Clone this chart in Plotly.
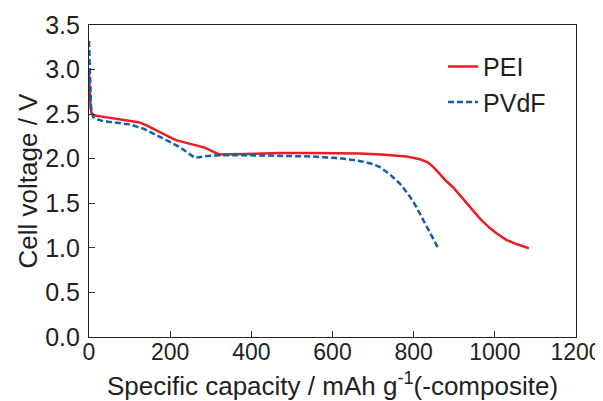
import plotly.graph_objects as go

# PEI (red, solid)
pei_capacity = [0, 1, 2, 4, 7, 15, 28, 60, 100, 122, 142, 160, 183, 200, 216, 240, 266, 285, 298, 310, 320,
                350, 421, 471, 550, 618, 667, 720, 782, 815, 835, 850, 864, 880, 897, 914, 930, 946, 965,
                987, 1005, 1028, 1055, 1084]
pei_voltage = [2.97, 2.85, 2.70, 2.56, 2.50, 2.485, 2.475, 2.455, 2.43, 2.41, 2.374, 2.33, 2.28, 2.24, 2.206,
               2.175, 2.15, 2.125, 2.095, 2.065, 2.048,
               2.05, 2.06, 2.063, 2.065, 2.063, 2.058, 2.048, 2.026, 1.995, 1.96, 1.90, 1.83, 1.75, 1.68,
               1.59, 1.50, 1.42, 1.32, 1.225, 1.16, 1.09, 1.04, 0.996]

# PVdF (blue, dashed)
pvdf_capacity = [0, 1, 2, 3, 5, 10, 15, 36, 70, 101, 134, 160, 183, 205, 224, 245, 261, 290, 323, 421, 471,
                 550, 618, 667, 700, 717, 740, 766, 790, 807, 825, 843, 860]
pvdf_voltage = [3.32, 3.10, 2.90, 2.70, 2.58, 2.47, 2.45, 2.42, 2.40, 2.385, 2.337, 2.28, 2.225, 2.175, 2.13,
                2.065, 2.01, 2.03, 2.04, 2.037, 2.03, 2.025, 2.005, 1.975, 1.94, 1.906, 1.83, 1.72, 1.58,
                1.456, 1.30, 1.15, 1.0]

x_ticks = [0, 200, 400, 600, 800, 1000, 1200]
y_ticks = [0.0, 0.5, 1.0, 1.5, 2.0, 2.5, 3.0, 3.5]

FONT = "Arial, Liberation Sans, sans-serif"
TXT = "#231f20"

fig = go.Figure()
fig.add_trace(go.Scatter(x=pei_capacity, y=pei_voltage, mode="lines", name="PEI",
                         line=dict(color="#ec1c24", width=2.5)))
fig.add_trace(go.Scatter(x=pvdf_capacity, y=pvdf_voltage, mode="lines", name="PVdF",
                         line=dict(color="#0f5fae", width=2.5, dash="6px,3px")))

# page body has an 8px margin; the plot area is placed to match the 603x401 window
fig.update_layout(
    width=603, height=393,
    margin=dict(l=81, r=35, t=17, b=64),
    paper_bgcolor="white", plot_bgcolor="white",
    font=dict(family=FONT, size=25, color=TXT),
    showlegend=True,
    legend=dict(x=0.727, y=0.94, xanchor="left", yanchor="top", bgcolor="rgba(0,0,0,0)",
                font=dict(size=25, color=TXT), tracegroupgap=0),
)
fig.update_xaxes(range=[0, 1200], tickvals=x_ticks, ticktext=[str(v) for v in x_ticks],
                 ticks="inside", ticklen=6, tickcolor="#333", showgrid=False, zeroline=False,
                 showline=True, linecolor="#222", linewidth=1.2, mirror=True, automargin=False,
                 tickfont=dict(size=23, color=TXT), ticklabelstandoff=-6, ticklabeloverflow="allow",
                 title=dict(text="Specific capacity / mAh g<sup>-1</sup>(-composite)",
                            font=dict(size=26, color=TXT), standoff=13))
fig.update_yaxes(range=[0, 3.5], tickvals=y_ticks, ticktext=[f"{v:.1f}" for v in y_ticks],
                 ticks="inside", ticklen=6, tickcolor="#333", showgrid=False, zeroline=False,
                 showline=True, linecolor="#222", linewidth=1.2, mirror=True, automargin=False,
                 tickfont=dict(size=25, color=TXT), ticklabelstandoff=3, ticklabeloverflow="allow",
                 title=dict(text="Cell voltage / V", font=dict(size=26, color=TXT), standoff=0))

fig.write_html("out.html")
